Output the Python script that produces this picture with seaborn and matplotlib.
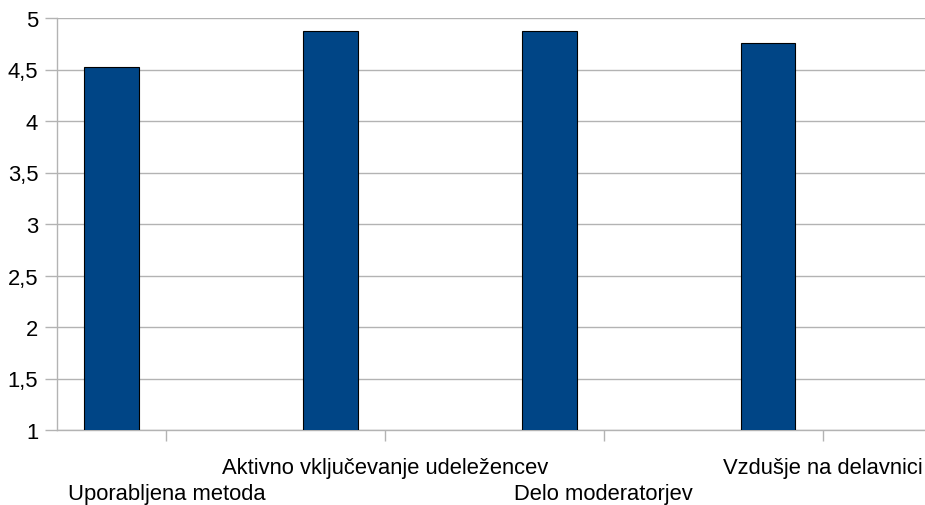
import matplotlib
matplotlib.use("Agg")
import matplotlib.pyplot as plt
import seaborn as sns
import pandas as pd

categories = [
    "Uporabljena metoda",
    "Aktivno vključevanje udeležencev",
    "Delo moderatorjev",
    "Vzdušje na delavnici",
]
scores = [4.52, 4.87, 4.87, 4.76]
y_ticks = [1, 1.5, 2, 2.5, 3, 3.5, 4, 4.5, 5]
y_tick_labels = ["1", "1,5", "2", "2,5", "3", "3,5", "4", "4,5", "5"]

sns.set_theme(style="white")
plt.rcParams["font.family"] = ["Liberation Sans", "DejaVu Sans"]

df = pd.DataFrame({"kategorija": categories, "ocena": scores})

W, H = 925, 506
fig = plt.figure(figsize=(W / 100, H / 100), dpi=100)
# plot area runs from x=57 to x=932 (a little past the right edge)
left, right, top, bottom = 57, 932, 19, 431
ax = fig.add_axes([left / W, 1 - bottom / H, (right - left) / W, (bottom - top) / H])

sns.barplot(data=df, x="kategorija", y="ocena", ax=ax, width=0.25,
            color="#004586", saturation=1, edgecolor="black", linewidth=0.8,
            zorder=3)

grid_c = "#b3b3b3"
ax.set_ylim(1, 5)
ax.set_xlim(-0.25, 3.75)
ax.set_yticks(y_ticks)
ax.set_yticklabels(y_tick_labels)
ax.set_xticks([i + 0.25 for i in range(len(categories))])
ax.set_xticklabels(categories)
ax.set_xlabel("")
ax.set_ylabel("")
ax.yaxis.grid(True, color=grid_c, linewidth=1.0, zorder=0)
ax.set_axisbelow(True)

for side in ["top", "right"]:
    ax.spines[side].set_visible(False)
for side in ["left", "bottom"]:
    ax.spines[side].set_color(grid_c)
    ax.spines[side].set_linewidth(1.0)

ax.tick_params(axis="y", direction="out", length=8.5, width=1.0, color=grid_c,
               labelsize=15.8, labelcolor="black", pad=5, left=True)
ax.tick_params(axis="x", direction="out", length=8, width=1.0, color=grid_c,
               labelsize=15.8, labelcolor="black", bottom=True)

# stagger the category labels on two rows
for i, tick in enumerate(ax.xaxis.get_major_ticks()):
    tick.set_pad(30.5 if i % 2 == 0 else 11.5)

fig.savefig("out.png", dpi=100)
